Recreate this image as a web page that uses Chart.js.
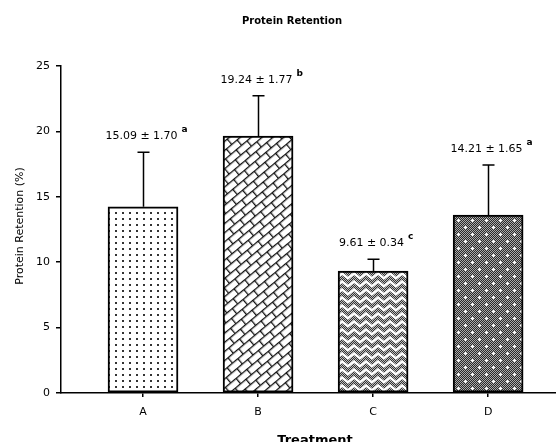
<!DOCTYPE html>
<html>
<head>
<meta charset="utf-8">
<script src="https://cdn.jsdelivr.net/npm/chart.js@4"></script>
<style>
  html, body { margin: 0; padding: 0; background: #fff; }
  canvas { display: block; }
</style>
</head>
<body>
<canvas id="chart" width="556" height="442"></canvas>
<script>
// ===== DATA =====
const treatments = ['A', 'B', 'C', 'D'];
const retention = [14.24, 19.65, 9.33, 13.61];
const errUpper = [4.16, 3.08, 0.9, 3.82];
const meanText = ['15.09 \u00b1 1.70', '19.24 \u00b1 1.77', '9.61 \u00b1 0.34', '14.21 \u00b1 1.65'];
const groupLetter = ['a', 'b', 'c', 'a'];
const yTicks = [0, 5, 10, 15, 20, 25];

Chart.defaults.font.family = "'DejaVu Sans', sans-serif";
Chart.defaults.font.size = 11;
Chart.defaults.color = '#000';

// ===== FILL PATTERNS =====
function tile(w, h, paint) {
  const c = document.createElement('canvas');
  c.width = w; c.height = h;
  paint(c.getContext('2d'), w, h);
  return c;
}
function dither(g, w, h, a, b) {
  for (let y = 0; y < h; y++)
    for (let x = 0; x < w; x++) {
      g.fillStyle = (x + y) % 2 ? a : b;
      g.fillRect(x, y, 1, 1);
    }
}
const ctx = document.getElementById('chart').getContext('2d');

// A: sparse dots
const patA = ctx.createPattern(tile(7, 6, (g, w, h) => {
  g.fillStyle = '#fff'; g.fillRect(0, 0, w, h);
  g.fillStyle = '#333'; g.fillRect(3, 2, 2, 2);
}), 'repeat');

// B: tilted bricks
const patB = ctx.createPattern(tile(14, 14, (g, w, h) => {
  g.fillStyle = '#fff'; g.fillRect(0, 0, w, h);
  g.fillStyle = '#111';
  g.fillRect(0, 0, w, 1.3);
  g.fillRect(0, 7, w, 1.3);
  g.fillRect(0, 0, 1.3, 7);
  g.fillRect(7, 7, 1.3, 7);
}), 'repeat');
patB.setTransform(new DOMMatrix().rotateSelf(-40));

// C: zigzag weave
const patC = ctx.createPattern(tile(12, 8, (g, w, h) => {
  dither(g, w, h, '#333', '#bbb');
  g.strokeStyle = '#fff'; g.lineWidth = 2.4;
  g.beginPath();
  g.moveTo(-1, 7); g.lineTo(6, 1.5); g.lineTo(13, 7);
  g.stroke();
}), 'repeat');

// D: dark dither with white crosses
const patD = ctx.createPattern(tile(14, 14, (g, w, h) => {
  dither(g, w, h, '#2a2a2a', '#aaa');
  g.fillStyle = '#fff';
  [[3, 3], [10, 10]].forEach(([x, y]) => {
    g.fillRect(x - 1, y, 3, 1);
    g.fillRect(x, y - 1, 1, 3);
  });
}), 'repeat');

const fills = [patA, patB, patC, patD];

// ===== EXTRA DRAWING =====
const decorations = {
  id: 'decorations',
  afterDatasetsDraw(chart) {
    const { ctx: c, scales: { x, y } } = chart;
    c.save();
    // error bars (upper only)
    c.strokeStyle = '#000';
    c.lineWidth = 1.5;
    retention.forEach((v, i) => {
      const px = Math.round(x.getPixelForValue(i)) + 0.5;
      const top = y.getPixelForValue(v);
      const cap = y.getPixelForValue(v + errUpper[i]);
      c.beginPath();
      c.moveTo(px, top); c.lineTo(px, cap);
      c.moveTo(px - 6, cap); c.lineTo(px + 6, cap);
      c.stroke();

      // mean ± sd label with superscript letter
      c.fillStyle = '#000';
      c.font = "11px 'DejaVu Sans'";
      c.textAlign = 'center';
      c.textBaseline = 'alphabetic';
      const ty = cap - 13;
      c.fillText(meanText[i], px - 2, ty);
      const tw = c.measureText(meanText[i]).width;
      c.font = "bold 9px 'DejaVu Sans'";
      c.textAlign = 'left';
      c.fillText(groupLetter[i], px - 2 + tw / 2 + 4, ty - 7);
    });

    // chart title
    c.font = "bold 10px 'DejaVu Sans'";
    c.textAlign = 'center';
    c.textBaseline = 'middle';
    c.fillText('Protein Retention', 292, 21);

    // x axis title (runs off the bottom edge, as in the source)
    c.font = "bold 13px 'DejaVu Sans'";
    c.textBaseline = 'top';
    c.fillText('Treatment', 315, 434);

    // y axis title
    c.translate(20, 226);
    c.rotate(-Math.PI / 2);
    c.font = "11px 'DejaVu Sans'";
    c.textBaseline = 'middle';
    c.fillText('Protein Retention (%)', 0, 0);
    c.restore();
  }
};

// ===== CHART =====
new Chart(ctx, {
  type: 'bar',
  data: {
    datasets: [{
      data: retention.map((v, i) => ({ x: i, y: v })),
      backgroundColor: fills,
      borderColor: '#000',
      borderWidth: 2,
      borderSkipped: false,
      barThickness: 70
    }]
  },
  options: {
    responsive: false,
    animation: false,
    layout: { padding: { top: 66, right: 0, left: 0, bottom: 0 } },
    plugins: { legend: { display: false }, tooltip: { enabled: false } },
    scales: {
      x: {
        type: 'linear',
        min: -0.713,
        max: 3.59,
        offset: false,
        afterBuildTicks: s => { s.ticks = treatments.map((t, i) => ({ value: i })); },
        afterFit: s => { s.height = 49; },
        ticks: {
          callback: v => treatments[v],
          padding: 9,
          font: { size: 11 },
          maxRotation: 0
        },
        grid: { drawOnChartArea: false, drawTicks: true, tickLength: 4, color: '#000', lineWidth: 1.5, offset: false },
        border: { display: true, color: '#000', width: 1.5 }
      },
      y: {
        min: 0,
        max: 25,
        afterBuildTicks: s => { s.ticks = yTicks.map(v => ({ value: v })); },
        afterFit: s => { s.width = 61; },
        ticks: { padding: 6, font: { size: 11 } },
        grid: { drawOnChartArea: false, drawTicks: true, tickLength: 5, color: '#000', lineWidth: 1.5 },
        border: { display: true, color: '#000', width: 1.5 }
      }
    }
  },
  plugins: [decorations]
});
</script>
</body>
</html>
